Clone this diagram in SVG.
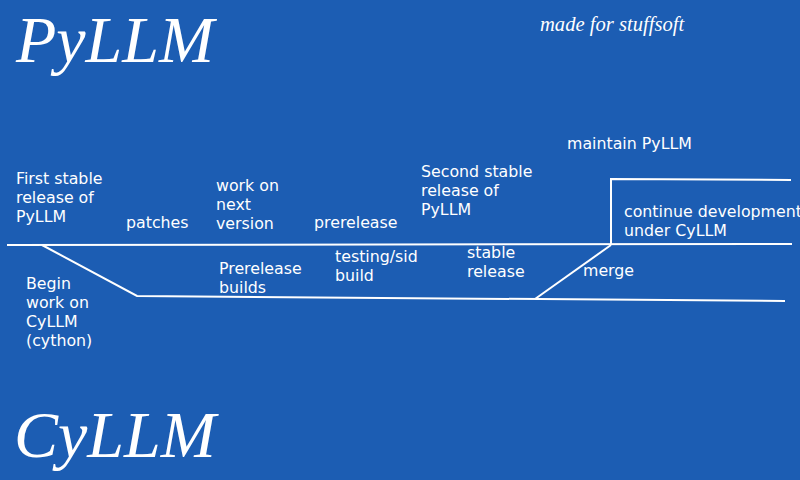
<svg xmlns="http://www.w3.org/2000/svg" width="800" height="480" viewBox="0 0 800 480">
<style>
.t{font-family:"DejaVu Sans",sans-serif;font-size:15.8px;fill:#ffffff}
.title{font-family:"Liberation Serif",serif;font-style:italic;font-size:66px;fill:#ffffff}
.l{stroke:#ffffff;stroke-width:2;fill:none}
</style>
<rect width="800" height="480" fill="#1c5db3"/>
<g id="title-pyllm"><text class="title" x="16" y="62">PyLLM</text></g>
<g id="title-cyllm"><text class="title" x="14" y="457">CyLLM</text></g>
<g id="credit"><text x="540" y="31" font-family="Liberation Serif,serif" font-style="italic" font-size="20.6" fill="#ffffff">made for stuffsoft</text></g>
<g id="connectors">
<path class="l" d="M7 245 L792 244"/>
<path class="l" d="M42 245 L137 296 L785 301"/>
<path class="l" d="M535 299 L611 245"/>
<path class="l" d="M611 245 L611 179 L791 180"/>
</g>
<g id="first-stable"><text class="t" x="16" y="184">First stable</text><text class="t" x="16" y="203">release of</text><text class="t" x="16" y="222">PyLLM</text></g>
<g id="patches"><text class="t" x="126" y="228">patches</text></g>
<g id="work-next"><text class="t" x="216" y="191">work on</text><text class="t" x="216" y="210">next</text><text class="t" x="216" y="229">version</text></g>
<g id="prerelease"><text class="t" x="314" y="228">prerelease</text></g>
<g id="second-stable"><text class="t" x="421" y="177">Second stable</text><text class="t" x="421" y="196">release of</text><text class="t" x="421" y="215">PyLLM</text></g>
<g id="maintain"><text class="t" x="567" y="149">maintain PyLLM</text></g>
<g id="continue"><text class="t" x="624" y="217">continue development</text><text class="t" x="624" y="236">under CyLLM</text></g>
<g id="begin"><text class="t" x="26" y="289">Begin</text><text class="t" x="26" y="308">work on</text><text class="t" x="26" y="327">CyLLM</text><text class="t" x="26" y="346">(cython)</text></g>
<g id="prerelease-builds"><text class="t" x="219" y="274">Prerelease</text><text class="t" x="219" y="293">builds</text></g>
<g id="testing"><text class="t" x="335" y="262">testing/sid</text><text class="t" x="335" y="281">build</text></g>
<g id="stable-release"><text class="t" x="467" y="258">stable</text><text class="t" x="467" y="277">release</text></g>
<g id="merge"><text class="t" x="583" y="276">merge</text></g>
</svg>
